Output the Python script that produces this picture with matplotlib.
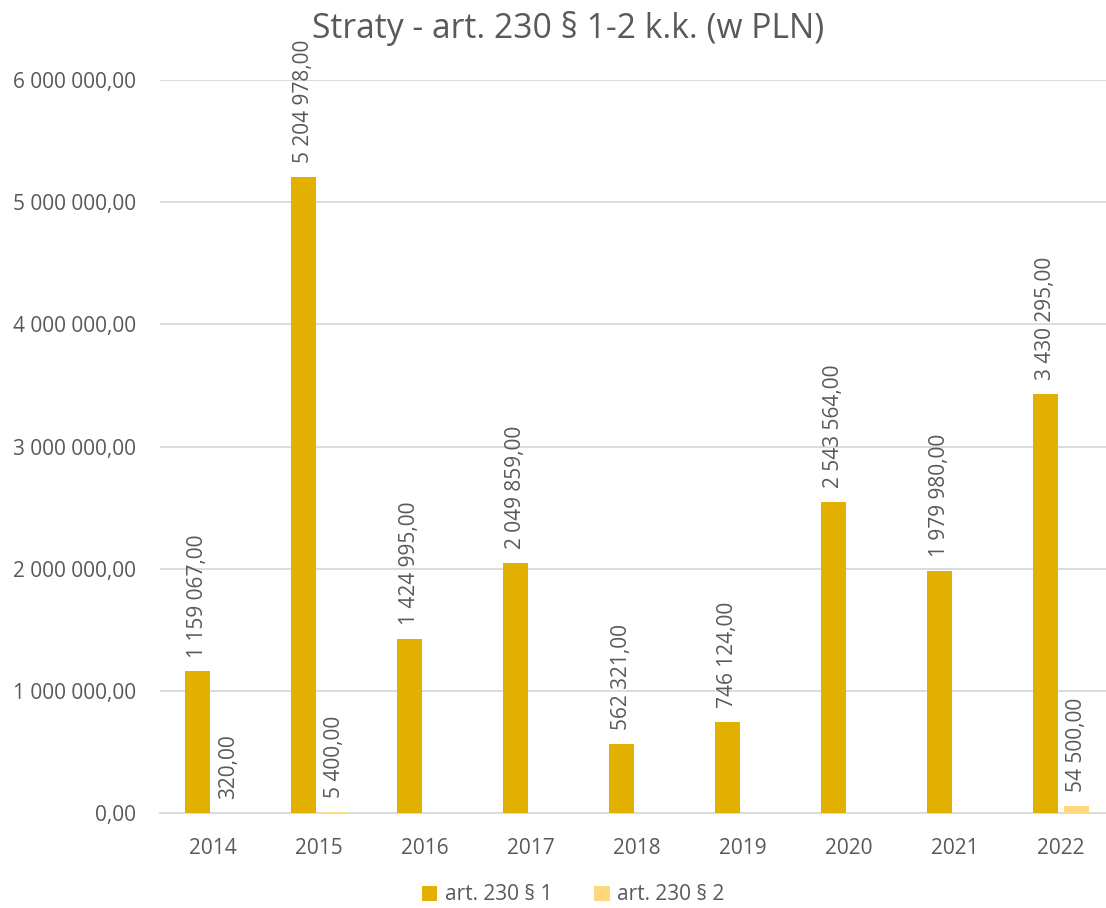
import numpy as np
import matplotlib.pyplot as plt

# data
years = ['2014', '2015', '2016', '2017', '2018', '2019', '2020', '2021', '2022']
art_1 = [1159067, 5204978, 1424995, 2049859, 562321, 746124, 2543564, 1979980, 3430295]
art_2 = [320, 5400, None, None, None, None, None, None, 54500]

TEXT = '#595959'
plt.rcParams['font.family'] = ['Open Sans', 'DejaVu Sans']


def fmt(v):
    # polish format: space thousands, comma decimals
    return f'{v:,.2f}'.replace(',', ' ').replace('.', ',')


fig = plt.figure(figsize=(11.06, 9.08), dpi=100)
ax = fig.add_axes([160 / 1106, 95 / 908, 954 / 1106, 733 / 908])

x = np.arange(len(years))
w = 0.23
off = 0.145
vals2 = [v if v is not None else 0 for v in art_2]
b1 = ax.bar(x - off, art_1, w, color='#E2B000', label='art. 230 § 1', zorder=3)
b2 = ax.bar(x + off, vals2, w, color='#FFD780', label='art. 230 § 2', zorder=3)

for xi, v in zip(x - off, art_1):
    ax.annotate(fmt(v), (xi, v), xytext=(0, 10), textcoords='offset points',
                rotation=90, ha='center', va='bottom', fontsize=15, color=TEXT,
                annotation_clip=False)
for xi, v in zip(x + off, art_2):
    if v is None:
        continue
    ax.annotate(fmt(v), (xi, v), xytext=(0, 10), textcoords='offset points',
                rotation=90, ha='center', va='bottom', fontsize=15, color=TEXT,
                annotation_clip=False)

ax.set_xlim(-0.5, len(years) - 0.5)
ax.set_ylim(0, 6000000)
ax.set_yticks(np.arange(0, 6000001, 1000000))
ax.set_yticklabels([fmt(v) for v in np.arange(0, 6000001, 1000000)])
ax.set_xticks(x)
ax.set_xticklabels(years)
ax.tick_params(axis='both', length=0, labelsize=15, colors=TEXT)
ax.tick_params(axis='x', pad=18)
ax.tick_params(axis='y', pad=17)
ax.grid(axis='y', color='#D9D9D9', linewidth=1.3, zorder=0)
for s in ['top', 'right', 'left']:
    ax.spines[s].set_visible(False)
ax.spines['bottom'].set_color('#D9D9D9')
ax.spines['bottom'].set_linewidth(1.3)

fig.text(568 / 1106, 1 - 29 / 908, 'Straty - art. 230 § 1-2 k.k. (w PLN)',
         ha='center', va='center', fontsize=24.2, color=TEXT)

fig.legend(handles=[b1, b2], loc='center', bbox_to_anchor=(573 / 1106, 1 - 895 / 908),
           ncol=2, frameon=False, fontsize=15, labelcolor=TEXT,
           handlelength=0.75, handleheight=0.75, handletextpad=0.35, columnspacing=2.0)

fig.savefig('out.png', dpi=100)
